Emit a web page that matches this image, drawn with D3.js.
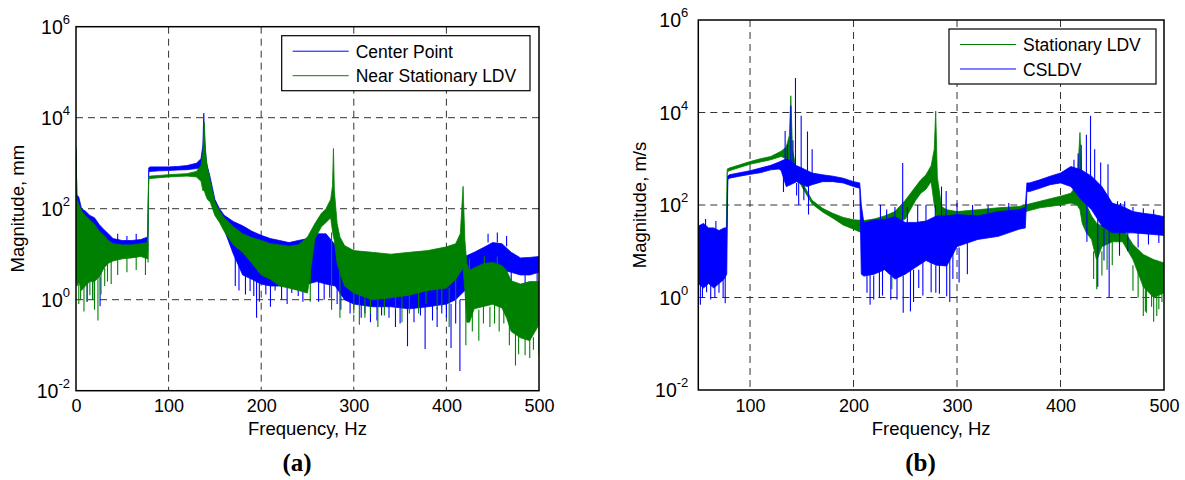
<!DOCTYPE html>
<html>
<head>
<meta charset="utf-8">
<script src="https://cdn.jsdelivr.net/npm/d3@7"></script>
<style>
  html, body { margin: 0; padding: 0; background: #fff; }
  svg { display: block; }
  text { font-family: "Liberation Sans", Arial, sans-serif; fill: #000; }
</style>
</head>
<body>
<svg id="chart" width="1185" height="480"></svg>
<script>
// ---------------- DATA ----------------
const aXTicks = [0, 100, 200, 300, 400, 500];
const bXTicks = [100, 200, 300, 400, 500];
const yTickExps = [-2, 0, 2, 4, 6];
const yTicks = [1e-2, 1e0, 1e2, 1e4, 1e6];

// Panel (a) series 1: "Center Point" (blue) - envelope of the dense spectrum
const aCenterFreq = [0,1,3,6,10,15,20,25,30,35,40,50,60,70,77.5,78.5,80,90,100,110,120,130,135,137,138,139,141,145,150,155,160,170,180,190,200,210,220,230,240,250,260,270,280,290,300,320,340,360,380,400,410,420,430,440,450,460,470,480,490,500];
const aCenterHi = [1.6e3,200,180,100,89,71,63,45,35,28,22,20,20,21,24,790,830,830,830,850,890,1000,1260,2500,1.26e4,3200,1000,480,160,100,72,52,42,32,26,22,20,18,20,22,28,28,16,11,11,10,8.9,8.9,7.9,7.1,7.9,8.9,11,14,18,17,11,8.3,8.5,8.9];
const aCenterLo = [10,4,6.3,3.2,3.2,4,3.2,3.2,5,7.1,8.9,10,10,11,11,630,660,680,690,710,720,760,790,630,400,320,250,160,79,56,35,10,3.5,2.8,2.2,2,2,2,2,2.2,2.5,2.2,2,1.0,0.8,0.7,0.7,0.63,0.7,0.8,1.0,1.6,3.2,4,4.5,4.5,4,3.5,3.5,4];
// spikes: [frequency, from, to]
const aCenterSpikes = [[12,3.0,0.9],[18,3.2,1.0],[26,3.2,0.72],[45,20,28],[55,20,25],[65,20,28],
  [172,10,2],[176,12,1.6],[183,8,1.3],[188,3,1.55],[192,6,1.2],[195,2.8,0.4],[198,6,0.9],[205,2.2,1.3],[210,5,0.7],[215,2,1.6],[222,5,1.0],[228,4,0.8],[233,2,1.4],[240,5,1.2],[245,5,0.9],
  [262,8,0.9],[268,8,1.0],[274,6,1.1],[282,5,0.8],[286,4,0.6],[296,0.9,0.5],[308,2,0.4],[312,2,0.5],[318,0.7,0.32],[325,2,0.35],[330,0.7,0.45],[338,2,0.4],[345,0.7,0.25],[350,2,0.3],[358,0.7,0.095],[365,0.7,0.32],[372,2,0.45],[377,0.7,0.083],[385,2,0.35],[390,0.7,0.25],[395,0.8,0.5],[400,2,0.4],[405,0.8,0.087],[410,2,0.3],[414.6,1.0,0.027],
  [430,6,1.6],[437,6,1.8],[443,8,2.0],[445,18,28],[455,18,30],[465,15,25],[470,8,2.0],[485,6,2.2],[498,6,2.0]];

// Panel (a) series 2: "Near Stationary LDV" (green)
const aNearFreq = [0,1,3,6,10,15,20,25,30,35,40,50,60,70,77.5,78.5,80,90,100,110,120,130,135,137,138.5,140,142,145,150,155,160,170,180,190,200,210,220,230,240,250,258,265,270,275,277,278,279,282,285,290,300,320,340,360,380,400,410,415,418,420,422,425,430,440,450,460,465,470,480,490,500];
const aNearHi = [2.2e3,160,126,89,71,56,45,32,26,20,17,16,16,17,18,500,520,540,560,575,590,660,890,1600,7900,1600,790,400,140,89,63,40,28,23,20,17,16,15,16,24,47,79,100,160,320,2100,250,47,24,15.5,12,11,10,11,12,14.5,17,28,310,20,6.3,4.4,5,6.2,6.6,5.6,4.4,2.6,2.2,2.5,2.5];
const aNearLo = [3.2,2.0,2.5,1.6,2.0,2.5,2.5,3.2,5.0,6.3,7.1,7.9,8.3,8.9,7.9,450,460,480,500,510,520,500,400,250,250,200,160,140,71,50,32,16,11,6.3,3.5,2.8,2.0,1.8,1.6,1.4,22,40,50,63,32,25,20,6.3,4.0,2.0,1.4,1.0,1.1,1.26,1.6,1.8,2.8,4.0,5.0,1.6,0.32,0.32,0.63,0.71,0.79,0.66,0.4,0.2,0.145,0.126,0.28];
const aNearSpikes = [[3,8,0.8],[5,2.0,1.0],[8.6,2.5,0.55],[12,2.5,0.9],[15,2.5,1.26],[18,10,1.0],[20,10,0.6],[23.7,3.2,0.35],[27,10,1.3],[31,5,2.0],[34,10,2.5],[38,10,2.2],[45,10,3.5],[55,10,4.0],[65,10,4.5],[75,10,3.5],[77.8,18,6.6],
  [253,10,0.9],[276,30,0.6],[285,4,0.4],[300,2,0.5],[306,1.4,0.28],[312,1.2,0.4],[318,2,0.5],[326,1.0,0.25],[333,2,0.45],[345,2,0.6],[352,1.2,0.32],[360,2,0.5],[370,1.4,0.5],[378,2,0.8],[390,2,0.6],[395,2,0.7],[403,1.8,0.25],[410,4,0.8],[421,1.5,0.1],
  [425,4,8],[428,2,0.2],[435,0.6,0.126],[440,2,0.3],[441,5,9],[447,0.7,0.25],[452,2,0.3],[455,5,9],[457,0.7,0.2],[462,2,0.3],[468,1,0.1],[474.6,0.2,0.036],[478,0.2,0.063],[485,0.5,0.06],[490,0.15,0.052],[494,0.15,0.079],[500,0.4,0.06]];

// Panel (b) series 1: "Stationary LDV" (green)
const bStatFreq = [50,60,70,77,78,80,90,100,110,120,130,135,138,139.4,141,145,150,160,170,180,190,200,210,220,230,240,250,260,265,270,275,278,279.4,281,285,290,300,320,340,360,380,400,410,416,418.8,421,425,430,435,440,450,460,470,480,490,500];
const bStatHi = [32,28,25,25,600,630,740,870,1000,1120,1450,1800,3200,2.3e4,1600,520,320,126,85,66,54,48,46,50,58,72,126,250,350,450,710,1600,1.07e4,400,93,79,72,79,87,93,120,155,180,280,3700,250,100,58,40,35,40,32,14,8.5,6.6,5.6];
const bStatLo = [4.0,4.0,5.0,5.0,520,550,650,760,850,950,1120,1000,790,630,560,420,250,105,71,52,37,30,24,25,32,40,50,126,180,220,320,100,79,40,12.6,32,48,52,60,66,87,100,110,100,79,40,25,18,6.3,12.6,16,16,6.6,1.7,1.0,1.26];
const bStatSpikes = [[237,40,1.5],[246,60,3],[283,100,30],[432,10,2.5],[435,6.3,1.5],[440,10,3],[445,15,4],[450,20,5],[470,5,1.4],[475,4,1.0],[480,3,0.4],[482,2,0.5],[483,1.7,0.47],[488,1.5,0.63],[490,2,0.3],[493,2,0.4],[495,1.5,0.56],[498,2,0.8]];

// Panel (b) series 2: "CSLDV" (blue)
const bCsFreq = [50,55,60,65,70,75,77.5,78.5,80,90,100,110,120,128,130,135,140,145,150,155,160,170,180,190,200,206,207.5,210,220,230,240,250,260,270,280,290,300,320,340,360,366,367.5,370,380,390,400,410,420,430,440,450,460,470,480,490,500];
const bCsHi = [35,40,32,32,28,32,32,420,450,500,550,630,720,850,890,1000,890,710,630,560,490,450,420,380,320,300,100,41,48,48,56,42,42,45,58,58,62,58,72,79,89,300,300,350,420,490,680,575,420,250,110,93,72,66,62,56];
const bCsLo = [2.0,1.6,2.0,1.6,2.0,2.5,3.2,350,380,420,460,500,575,600,560,250,280,320,280,250,275,320,320,300,250,230,3.2,2.9,3.2,4.0,2.5,3.2,4.5,6.3,5.0,4.8,12.6,18,21,30,32,195,195,230,275,300,250,130,79,35,25,25,25,24,23,22];
const bCsSpikes = [[52,5,0.7],[54,3,1.0],[57,30,50],[58,3,1.3],[62,3,0.91],[66,5,1.0],[67,30,45],[70,3,1.26],[74,3,1.0],[76,5,0.75],
  [132.3,600,190],[133.9,800,4000],[136,600,2000],[139.4,800,1.4e4],[141.5,500,2500],[143.9,600,5.6e4],[145,300,160],[147,300,100],[149.4,500,8500],[152,300,126],[155.5,400,3900],[156.5,300,62],[160,400,1600],
  [213,3,1.26],[216,4,0.7],[219.5,3,0.91],[225,4,1.0],[226,40,100],[228,4,1.1],[232,40,80],[236,3,0.89],[240,40,90],[242,4,0.9],[247.5,30,810],[248,3,0.47],[252,40,90],[255,4,0.5],[258,4,0.8],[262,40,100],[263,4,1.6],[267,6,1.1],[270,40,100],[275,6,1.3],[279,40,100],[279.5,5,1.26],[283,6,1.2],[285,40,250],[289.5,40,200],[290,5,1.07],[293,8,0.8],[296,10,2.5],[300,50,110],[302,12,2.1],[310,15,3.2],[315,50,100],[330,50,100],[350,60,110],
  [413,630,950],[417,500,1300],[420,500,2000],[425,500,3300],[425.5,130,16],[429,400,8500],[433,300,1600],[436,50,1.7],[438.8,200,830],[442,30,6.3],[445.9,100,760],[447,30,1.0],[455,60,120],[457,25,8],[458,80,110],[462,60,120],[465,25,10],[470,50,90],[475,25,12],[480,50,85],[485,25,14],[490,50,80],[495,25,15]];

const seriesColors = { blue: "#0000ff", green: "#008000" };

// ---------------- DRAW ----------------
const svg = d3.select("#chart");
const font = '"Liberation Sans", Arial, sans-serif';

function panel(cfg) {
  const x = d3.scaleLinear().domain(cfg.xDomain).range([cfg.left, cfg.right]);
  const y = d3.scaleLog().domain([1e-2, 1e6]).range([cfg.bottom, cfg.top]);
  const g = svg.append("g");
  const clipId = "clip-" + cfg.id;
  svg.append("clipPath").attr("id", clipId).append("rect")
    .attr("x", cfg.left).attr("y", cfg.top)
    .attr("width", cfg.right - cfg.left).attr("height", cfg.bottom - cfg.top);

  // grid (under data)
  const grid = g.append("g");
  cfg.xTicks.filter(t => t > cfg.xDomain[0] && t < cfg.xDomain[1]).forEach(t => {
    grid.append("line").attr("x1", x(t)).attr("x2", x(t)).attr("y1", cfg.top).attr("y2", cfg.bottom)
      .attr("stroke", "#333").attr("stroke-width", 1).attr("stroke-dasharray", "7,5");
  });
  yTicks.slice(1, -1).forEach(t => {
    grid.append("line").attr("x1", cfg.left).attr("x2", cfg.right).attr("y1", y(t)).attr("y2", y(t))
      .attr("stroke", "#333").attr("stroke-width", 1).attr("stroke-dasharray", "7,5");
  });

  // data
  const dg = g.append("g").attr("clip-path", `url(#${clipId})`);
  cfg.series.forEach(s => {
    const pts = s.freq.map((f, i) => ({ f, hi: s.hi[i], lo: s.lo[i] }));
    const area = d3.area().x(d => x(d.f)).y0(d => y(d.lo)).y1(d => y(d.hi));
    dg.append("path").attr("d", area(pts)).attr("fill", s.color)
      .attr("stroke", s.color).attr("stroke-width", 0.8).attr("stroke-linejoin", "round");
    dg.selectAll(null).data(s.spikes).enter().append("line")
      .attr("x1", d => x(d[0])).attr("x2", d => x(d[0]))
      .attr("y1", d => y(d[1])).attr("y2", d => y(d[2]))
      .attr("stroke", s.color).attr("stroke-width", 1.1);
  });

  // frame
  g.append("rect").attr("x", cfg.left).attr("y", cfg.top)
    .attr("width", cfg.right - cfg.left).attr("height", cfg.bottom - cfg.top)
    .attr("fill", "none").attr("stroke", "#000").attr("stroke-width", 1.5);

  // x axis labels via d3 axis
  const xAxis = d3.axisBottom(x).tickValues(cfg.xTicks).tickSize(0).tickPadding(9).tickFormat(d3.format("d"));
  const xg = g.append("g").attr("transform", `translate(0,${cfg.bottom})`).call(xAxis);
  xg.select(".domain").remove();
  xg.selectAll("text").attr("font-size", 18).attr("font-family", font).attr("fill", "#000");

  // y tick labels (10^n)
  yTicks.forEach((t, i) => {
    const tx = g.append("text").attr("x", cfg.left - cfg.yLabelGap).attr("y", y(t) + 7)
      .attr("text-anchor", "end").attr("font-size", 19.5);
    tx.append("tspan").text("10");
    tx.append("tspan").attr("dy", -10).attr("font-size", 13).text(String(yTickExps[i]));
  });

  // axis titles
  g.append("text").attr("x", (cfg.left + cfg.right) / 2).attr("y", 435)
    .attr("text-anchor", "middle").attr("font-size", 18.5).text("Frequency, Hz");
  g.append("text").attr("transform", `translate(${cfg.yTitleX},${(cfg.top + cfg.bottom) / 2}) rotate(-90)`)
    .attr("text-anchor", "middle").attr("font-size", 18.5).text(cfg.yTitle);
  g.append("text").attr("x", cfg.panelLabelX).attr("y", 471).attr("text-anchor", "middle")
    .attr("font-size", 25).attr("font-weight", "bold")
    .style("font-family", '"Liberation Serif", "Times New Roman", serif').text(cfg.panelLabel);

  // legend
  const L = cfg.legend;
  const lg = g.append("g");
  lg.append("rect").attr("x", L.x).attr("y", L.y).attr("width", L.w).attr("height", L.h)
    .attr("fill", "#fff").attr("stroke", "#000").attr("stroke-width", 1.2);
  L.items.forEach((it, i) => {
    const cy = L.y + 15.5 + i * 24.5;
    lg.append("line").attr("x1", L.x + 11).attr("x2", L.x + 67).attr("y1", cy).attr("y2", cy)
      .attr("stroke", it.color).attr("stroke-width", 1);
    lg.append("text").attr("x", L.x + 74).attr("y", cy + 6.5).attr("font-size", 17.5).text(it.label);
  });
}

panel({
  id: "a", left: 76, right: 539, top: 26.7, bottom: 390.7, xDomain: [0, 500], xTicks: aXTicks,
  yLabelGap: 6, yTitle: "Magnitude, mm", yTitleX: 24, panelLabel: "(a)", panelLabelX: 297,
  series: [
    { freq: aCenterFreq, hi: aCenterHi, lo: aCenterLo, spikes: aCenterSpikes, color: seriesColors.blue },
    { freq: aNearFreq, hi: aNearHi, lo: aNearLo, spikes: aNearSpikes, color: seriesColors.green }
  ],
  legend: { x: 281.7, y: 35.7, w: 248.3, h: 55, items: [
    { label: "Center Point", color: seriesColors.blue },
    { label: "Near Stationary LDV", color: seriesColors.green } ] }
});

panel({
  id: "b", left: 698.3, right: 1164, top: 20, bottom: 390, xDomain: [50, 500], xTicks: bXTicks,
  yLabelGap: 10, yTitle: "Magnitude, m/s", yTitleX: 646, panelLabel: "(b)", panelLabelX: 920.5,
  series: [
    { freq: bStatFreq, hi: bStatHi, lo: bStatLo, spikes: bStatSpikes, color: seriesColors.green },
    { freq: bCsFreq, hi: bCsHi, lo: bCsLo, spikes: bCsSpikes, color: seriesColors.blue }
  ],
  legend: { x: 949, y: 29, w: 207, h: 55, items: [
    { label: "Stationary LDV", color: seriesColors.green },
    { label: "CSLDV", color: seriesColors.blue } ] }
});
</script>
</body>
</html>
